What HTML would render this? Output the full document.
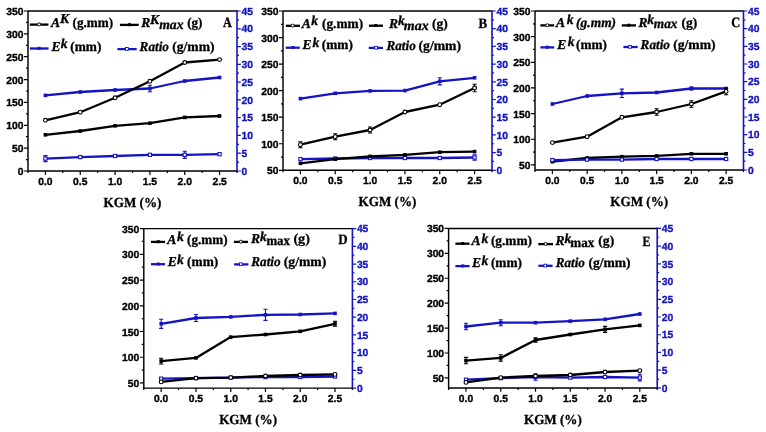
<!DOCTYPE html>
<html><head><meta charset="utf-8"><style>
html,body{margin:0;padding:0;background:#fff;}
svg{display:block;will-change:transform;text-rendering:geometricPrecision;}
.tl{font:bold 10.3px "Liberation Sans",sans-serif;text-anchor:end;fill:#000;stroke:#000;stroke-width:0.35px;}
.tr{font:bold 10.3px "Liberation Sans",sans-serif;text-anchor:start;fill:#1414c4;stroke:#1414c4;stroke-width:0.35px;}
.tb{font:bold 10.3px "Liberation Sans",sans-serif;text-anchor:middle;fill:#000;stroke:#000;stroke-width:0.35px;}
.xl{font:bold 13.8px "Liberation Serif",serif;text-anchor:middle;fill:#000;stroke:#000;stroke-width:0.3px;}
.pl{font:bold 12.5px "Liberation Serif",serif;text-anchor:end;fill:#000;}
.lg{font:bold 12px "Liberation Serif",serif;fill:#000;stroke:#000;stroke-width:0.3px;}
</style></head><body>
<svg width="766" height="432" viewBox="0 0 766 432">
<rect width="766" height="432" fill="#fff"/>
<polyline points="45.42,95.4 80.25,92 115.08,90 149.92,88.5 184.75,81 219.58,77.5" fill="none" stroke="#1414c4" stroke-width="2.3" stroke-linejoin="round"/>
<path d="M149.92 85.2V91.8M147.82 85.2h4.2M147.82 91.8h4.2" stroke="#1414c4" stroke-width="1.1" fill="none"/>
<rect x="43.62" y="93.6" width="3.6" height="3.6" fill="#1414c4"/>
<rect x="78.45" y="90.2" width="3.6" height="3.6" fill="#1414c4"/>
<rect x="113.28" y="88.2" width="3.6" height="3.6" fill="#1414c4"/>
<rect x="148.12" y="86.7" width="3.6" height="3.6" fill="#1414c4"/>
<rect x="182.95" y="79.2" width="3.6" height="3.6" fill="#1414c4"/>
<rect x="217.78" y="75.7" width="3.6" height="3.6" fill="#1414c4"/>
<polyline points="45.42,120.3 80.25,112.2 115.08,97.8 149.92,81.3 184.75,62.5 219.58,59.6" fill="none" stroke="#000" stroke-width="2.3" stroke-linejoin="round"/>
<circle cx="45.42" cy="120.3" r="1.9" fill="#fff" stroke="#000" stroke-width="1.1"/>
<circle cx="80.25" cy="112.2" r="1.9" fill="#fff" stroke="#000" stroke-width="1.1"/>
<circle cx="115.08" cy="97.8" r="1.9" fill="#fff" stroke="#000" stroke-width="1.1"/>
<circle cx="149.92" cy="81.3" r="1.9" fill="#fff" stroke="#000" stroke-width="1.1"/>
<circle cx="184.75" cy="62.5" r="1.9" fill="#fff" stroke="#000" stroke-width="1.1"/>
<circle cx="219.58" cy="59.6" r="1.9" fill="#fff" stroke="#000" stroke-width="1.1"/>
<polyline points="45.42,134.8 80.25,131 115.08,125.8 149.92,123.2 184.75,117.4 219.58,116" fill="none" stroke="#000" stroke-width="2.3" stroke-linejoin="round"/>
<rect x="43.62" y="133" width="3.6" height="3.6" fill="#000"/>
<rect x="78.45" y="129.2" width="3.6" height="3.6" fill="#000"/>
<rect x="113.28" y="124" width="3.6" height="3.6" fill="#000"/>
<rect x="148.12" y="121.4" width="3.6" height="3.6" fill="#000"/>
<rect x="182.95" y="115.6" width="3.6" height="3.6" fill="#000"/>
<rect x="217.78" y="114.2" width="3.6" height="3.6" fill="#000"/>
<polyline points="45.42,158.6 80.25,157.1 115.08,156 149.92,154.8 184.75,154.8 219.58,154.2" fill="none" stroke="#1414c4" stroke-width="2.3" stroke-linejoin="round"/>
<path d="M45.42 155.6V161.6M43.32 155.6h4.2M43.32 161.6h4.2" stroke="#1414c4" stroke-width="1.1" fill="none"/>
<path d="M184.75 151.2V158.4M182.65 151.2h4.2M182.65 158.4h4.2" stroke="#1414c4" stroke-width="1.1" fill="none"/>
<rect x="43.82" y="157" width="3.2" height="3.2" fill="#fff" stroke="#1414c4" stroke-width="1.1"/>
<rect x="78.65" y="155.5" width="3.2" height="3.2" fill="#fff" stroke="#1414c4" stroke-width="1.1"/>
<rect x="113.48" y="154.4" width="3.2" height="3.2" fill="#fff" stroke="#1414c4" stroke-width="1.1"/>
<rect x="148.32" y="153.2" width="3.2" height="3.2" fill="#fff" stroke="#1414c4" stroke-width="1.1"/>
<rect x="183.15" y="153.2" width="3.2" height="3.2" fill="#fff" stroke="#1414c4" stroke-width="1.1"/>
<rect x="217.98" y="152.6" width="3.2" height="3.2" fill="#fff" stroke="#1414c4" stroke-width="1.1"/>
<path d="M28 11H237M28 11V171H237" stroke="#000" stroke-width="1.45" fill="none"/>
<path d="M237 10.2V171.8" stroke="#1414c4" stroke-width="1.6" fill="none"/>
<text x="23.5" y="175" class="tl">0</text>
<text x="23.5" y="152.14" class="tl">50</text>
<text x="23.5" y="129.29" class="tl">100</text>
<text x="23.5" y="106.43" class="tl">150</text>
<text x="23.5" y="83.57" class="tl">200</text>
<text x="23.5" y="60.71" class="tl">250</text>
<text x="23.5" y="37.86" class="tl">300</text>
<text x="23.5" y="15" class="tl">350</text>
<path d="M28 171h-4M28 159.57h-2M28 148.14h-4M28 136.71h-2M28 125.29h-4M28 113.86h-2M28 102.43h-4M28 91h-2M28 79.57h-4M28 68.14h-2M28 56.71h-4M28 45.29h-2M28 33.86h-4M28 22.43h-2M28 11h-4" stroke="#000" stroke-width="1.2"/>
<text x="241.5" y="174.7" class="tr">0</text>
<text x="241.5" y="156.92" class="tr">5</text>
<text x="241.5" y="139.14" class="tr">10</text>
<text x="241.5" y="121.37" class="tr">15</text>
<text x="241.5" y="103.59" class="tr">20</text>
<text x="241.5" y="85.81" class="tr">25</text>
<text x="241.5" y="68.03" class="tr">30</text>
<text x="241.5" y="50.26" class="tr">35</text>
<text x="241.5" y="32.48" class="tr">40</text>
<text x="241.5" y="14.7" class="tr">45</text>
<path d="M237 171h3.8M237 162.11h2M237 153.22h3.8M237 144.33h2M237 135.44h3.8M237 126.56h2M237 117.67h3.8M237 108.78h2M237 99.89h3.8M237 91h2M237 82.11h3.8M237 73.22h2M237 64.33h3.8M237 55.44h2M237 46.56h3.8M237 37.67h2M237 28.78h3.8M237 19.89h2M237 11h3.8" stroke="#1414c4" stroke-width="1.2"/>
<text x="45.42" y="185.1" class="tb">0.0</text>
<text x="80.25" y="185.1" class="tb">0.5</text>
<text x="115.08" y="185.1" class="tb">1.0</text>
<text x="149.92" y="185.1" class="tb">1.5</text>
<text x="184.75" y="185.1" class="tb">2.0</text>
<text x="219.58" y="185.1" class="tb">2.5</text>
<path d="M28 171v2M45.42 171v3.9M62.83 171v2M80.25 171v3.9M97.67 171v2M115.08 171v3.9M132.5 171v2M149.92 171v3.9M167.33 171v2M184.75 171v3.9M202.17 171v2M219.58 171v3.9M237 171v2" stroke="#000" stroke-width="1.2"/>
<text x="132.5" y="206.8" class="xl" textLength="57.8" lengthAdjust="spacingAndGlyphs">KGM (%)</text>
<path d="M29.9 24.6H48.4" stroke="#000" stroke-width="2.3"/>
<circle cx="39.2" cy="24.4" r="1.5" fill="#fff" stroke="#000" stroke-width="0.9"/>
<text x="50.9" y="26.9" class="lg" style="font-style:italic;font-size:13.6px">A</text>
<text x="60" y="23.3" class="lg" style="font-style:italic;font-size:13.6px">K</text>
<text x="72.6" y="26.9" class="lg" style="font-size:13.6px" textLength="40.6" lengthAdjust="spacingAndGlyphs">(g.mm)</text>
<path d="M119.9 24.9H138.7" stroke="#000" stroke-width="2.3"/>
<rect x="128" y="23.2" width="3" height="3" fill="#000"/>
<text x="141.3" y="26.9" class="lg" style="font-style:italic;font-size:13.6px">R</text>
<text x="150.1" y="23.9" class="lg" style="font-style:italic;font-size:13.6px">K</text>
<text x="159.2" y="29.3" class="lg" style="font-style:italic;font-size:13.6px" textLength="24.3" lengthAdjust="spacingAndGlyphs">max</text>
<text x="187.2" y="26.9" class="lg" style="font-size:13.6px" textLength="15.3" lengthAdjust="spacingAndGlyphs">(g)</text>
<path d="M29.9 48.5H48.6" stroke="#1414c4" stroke-width="2.3"/>
<rect x="37.7" y="46.8" width="3" height="3" fill="#1414c4"/>
<text x="51.5" y="51.2" class="lg" style="font-style:italic;font-size:13.6px">E</text>
<text x="60.7" y="48.2" class="lg" style="font-style:italic;font-size:13.6px">k</text>
<text x="70.3" y="51.2" class="lg" style="font-size:13.6px" textLength="31.1" lengthAdjust="spacingAndGlyphs">(mm)</text>
<path d="M117.4 49.1H136.7" stroke="#1414c4" stroke-width="2.3"/>
<rect x="125.5" y="47.5" width="2.8" height="2.8" fill="#fff" stroke="#1414c4" stroke-width="0.9"/>
<text x="139.6" y="51" class="lg" style="font-style:italic;font-size:13.6px" textLength="29.3" lengthAdjust="spacingAndGlyphs">Ratio</text>
<text x="172.2" y="51" class="lg" style="font-size:13.6px" textLength="42.4" lengthAdjust="spacingAndGlyphs">(g/mm)</text>
<text x="222.9" y="27.3" class="lg" style="font-size:14.3px" textLength="8.8" lengthAdjust="spacingAndGlyphs">A</text>
<polyline points="300.42,98.6 335.25,93.3 370.08,90.9 404.92,90.6 439.75,81.3 474.58,77.8" fill="none" stroke="#1414c4" stroke-width="2.3" stroke-linejoin="round"/>
<path d="M439.75 77.7V84.9M437.65 77.7h4.2M437.65 84.9h4.2" stroke="#1414c4" stroke-width="1.1" fill="none"/>
<rect x="298.62" y="96.8" width="3.6" height="3.6" fill="#1414c4"/>
<rect x="333.45" y="91.5" width="3.6" height="3.6" fill="#1414c4"/>
<rect x="368.28" y="89.1" width="3.6" height="3.6" fill="#1414c4"/>
<rect x="403.12" y="88.8" width="3.6" height="3.6" fill="#1414c4"/>
<rect x="437.95" y="79.5" width="3.6" height="3.6" fill="#1414c4"/>
<rect x="472.78" y="76" width="3.6" height="3.6" fill="#1414c4"/>
<polyline points="300.42,144.7 335.25,136.7 370.08,130 404.92,112 439.75,104.7 474.58,88" fill="none" stroke="#000" stroke-width="2.3" stroke-linejoin="round"/>
<path d="M300.42 141.7V147.7M298.32 141.7h4.2M298.32 147.7h4.2" stroke="#000" stroke-width="1.1" fill="none"/>
<path d="M335.25 133.7V139.7M333.15 133.7h4.2M333.15 139.7h4.2" stroke="#000" stroke-width="1.1" fill="none"/>
<path d="M370.08 127V133M367.98 127h4.2M367.98 133h4.2" stroke="#000" stroke-width="1.1" fill="none"/>
<path d="M474.58 84.3V91.7M472.48 84.3h4.2M472.48 91.7h4.2" stroke="#000" stroke-width="1.1" fill="none"/>
<circle cx="300.42" cy="144.7" r="1.9" fill="#fff" stroke="#000" stroke-width="1.1"/>
<circle cx="335.25" cy="136.7" r="1.9" fill="#fff" stroke="#000" stroke-width="1.1"/>
<circle cx="370.08" cy="130" r="1.9" fill="#fff" stroke="#000" stroke-width="1.1"/>
<circle cx="404.92" cy="112" r="1.9" fill="#fff" stroke="#000" stroke-width="1.1"/>
<circle cx="439.75" cy="104.7" r="1.9" fill="#fff" stroke="#000" stroke-width="1.1"/>
<circle cx="474.58" cy="88" r="1.9" fill="#fff" stroke="#000" stroke-width="1.1"/>
<polyline points="300.42,159.1 335.25,158.5 370.08,158 404.92,158 439.75,158 474.58,157.5" fill="none" stroke="#1414c4" stroke-width="2.3" stroke-linejoin="round"/>
<path d="M474.58 154.8V160.2M472.48 154.8h4.2M472.48 160.2h4.2" stroke="#1414c4" stroke-width="1.1" fill="none"/>
<rect x="298.82" y="157.5" width="3.2" height="3.2" fill="#fff" stroke="#1414c4" stroke-width="1.1"/>
<rect x="333.65" y="156.9" width="3.2" height="3.2" fill="#fff" stroke="#1414c4" stroke-width="1.1"/>
<rect x="368.48" y="156.4" width="3.2" height="3.2" fill="#fff" stroke="#1414c4" stroke-width="1.1"/>
<rect x="403.32" y="156.4" width="3.2" height="3.2" fill="#fff" stroke="#1414c4" stroke-width="1.1"/>
<rect x="438.15" y="156.4" width="3.2" height="3.2" fill="#fff" stroke="#1414c4" stroke-width="1.1"/>
<rect x="472.98" y="155.9" width="3.2" height="3.2" fill="#fff" stroke="#1414c4" stroke-width="1.1"/>
<polyline points="300.42,163.3 335.25,159.1 370.08,156.4 404.92,154.8 439.75,152.2 474.58,151.6" fill="none" stroke="#000" stroke-width="2.3" stroke-linejoin="round"/>
<rect x="298.62" y="161.5" width="3.6" height="3.6" fill="#000"/>
<rect x="333.45" y="157.3" width="3.6" height="3.6" fill="#000"/>
<rect x="368.28" y="154.6" width="3.6" height="3.6" fill="#000"/>
<rect x="403.12" y="153" width="3.6" height="3.6" fill="#000"/>
<rect x="437.95" y="150.4" width="3.6" height="3.6" fill="#000"/>
<rect x="472.78" y="149.8" width="3.6" height="3.6" fill="#000"/>
<path d="M283 11H492M283 11V170.3H492" stroke="#000" stroke-width="1.45" fill="none"/>
<path d="M492 10.2V171.1" stroke="#1414c4" stroke-width="1.6" fill="none"/>
<text x="278.5" y="174.3" class="tl">50</text>
<text x="278.5" y="147.75" class="tl">100</text>
<text x="278.5" y="121.2" class="tl">150</text>
<text x="278.5" y="94.65" class="tl">200</text>
<text x="278.5" y="68.1" class="tl">250</text>
<text x="278.5" y="41.55" class="tl">300</text>
<text x="278.5" y="15" class="tl">350</text>
<path d="M283 170.3h-4M283 157.03h-2M283 143.75h-4M283 130.48h-2M283 117.2h-4M283 103.92h-2M283 90.65h-4M283 77.38h-2M283 64.1h-4M283 50.83h-2M283 37.55h-4M283 24.28h-2M283 11h-4" stroke="#000" stroke-width="1.2"/>
<text x="496.5" y="174" class="tr">0</text>
<text x="496.5" y="156.3" class="tr">5</text>
<text x="496.5" y="138.6" class="tr">10</text>
<text x="496.5" y="120.9" class="tr">15</text>
<text x="496.5" y="103.2" class="tr">20</text>
<text x="496.5" y="85.5" class="tr">25</text>
<text x="496.5" y="67.8" class="tr">30</text>
<text x="496.5" y="50.1" class="tr">35</text>
<text x="496.5" y="32.4" class="tr">40</text>
<text x="496.5" y="14.7" class="tr">45</text>
<path d="M492 170.3h3.8M492 161.45h2M492 152.6h3.8M492 143.75h2M492 134.9h3.8M492 126.05h2M492 117.2h3.8M492 108.35h2M492 99.5h3.8M492 90.65h2M492 81.8h3.8M492 72.95h2M492 64.1h3.8M492 55.25h2M492 46.4h3.8M492 37.55h2M492 28.7h3.8M492 19.85h2M492 11h3.8" stroke="#1414c4" stroke-width="1.2"/>
<text x="300.42" y="184.4" class="tb">0.0</text>
<text x="335.25" y="184.4" class="tb">0.5</text>
<text x="370.08" y="184.4" class="tb">1.0</text>
<text x="404.92" y="184.4" class="tb">1.5</text>
<text x="439.75" y="184.4" class="tb">2.0</text>
<text x="474.58" y="184.4" class="tb">2.5</text>
<path d="M283 170.3v2M300.42 170.3v3.9M317.83 170.3v2M335.25 170.3v3.9M352.67 170.3v2M370.08 170.3v3.9M387.5 170.3v2M404.92 170.3v3.9M422.33 170.3v2M439.75 170.3v3.9M457.17 170.3v2M474.58 170.3v3.9M492 170.3v2" stroke="#000" stroke-width="1.2"/>
<text x="387.5" y="206.1" class="xl" textLength="57.8" lengthAdjust="spacingAndGlyphs">KGM (%)</text>
<path d="M285.9 25.8H299.9" stroke="#000" stroke-width="2.3"/>
<circle cx="292.7" cy="25.6" r="1.5" fill="#fff" stroke="#000" stroke-width="0.9"/>
<text x="301.7" y="27.6" class="lg" style="font-style:italic;font-size:13.6px">A</text>
<text x="311.3" y="25" class="lg" style="font-style:italic;font-size:13.6px">k</text>
<text x="322" y="27.6" class="lg" style="font-size:13.6px" textLength="41.1" lengthAdjust="spacingAndGlyphs">(g.mm)</text>
<path d="M368.9 25.7H383" stroke="#000" stroke-width="2.3"/>
<rect x="374.3" y="24" width="3" height="3" fill="#000"/>
<text x="389.1" y="27.5" class="lg" style="font-style:italic;font-size:13.6px">R</text>
<text x="397.9" y="24.7" class="lg" style="font-style:italic;font-size:13.6px">k</text>
<text x="403.8" y="29.5" class="lg" style="font-style:italic;font-size:13.6px" textLength="24.9" lengthAdjust="spacingAndGlyphs">max</text>
<text x="432" y="27.5" class="lg" style="font-size:13.6px" textLength="15.8" lengthAdjust="spacingAndGlyphs">(g)</text>
<path d="M285.7 47.7H299.8" stroke="#1414c4" stroke-width="2.3"/>
<rect x="291.5" y="46" width="3" height="3" fill="#1414c4"/>
<text x="302.4" y="49.4" class="lg" style="font-style:italic;font-size:13.6px">E</text>
<text x="312.4" y="47" class="lg" style="font-style:italic;font-size:13.6px">k</text>
<text x="321.8" y="49.4" class="lg" style="font-size:13.6px" textLength="31.1" lengthAdjust="spacingAndGlyphs">(mm)</text>
<path d="M368.7 47.9H383" stroke="#1414c4" stroke-width="2.3"/>
<rect x="374.7" y="46.3" width="2.8" height="2.8" fill="#fff" stroke="#1414c4" stroke-width="0.9"/>
<text x="386.5" y="49.6" class="lg" style="font-style:italic;font-size:13.6px" textLength="29.2" lengthAdjust="spacingAndGlyphs">Ratio</text>
<text x="418.5" y="49.6" class="lg" style="font-size:13.6px" textLength="42.6" lengthAdjust="spacingAndGlyphs">(g/mm)</text>
<text x="478.5" y="27.6" class="lg" style="font-size:14.3px" textLength="8.7" lengthAdjust="spacingAndGlyphs">B</text>
<polyline points="552.38,104 587.12,96 621.88,93.3 656.62,92.5 691.38,88.5 726.12,88.5" fill="none" stroke="#1414c4" stroke-width="2.3" stroke-linejoin="round"/>
<path d="M621.88 89.1V97.5M619.77 89.1h4.2M619.77 97.5h4.2" stroke="#1414c4" stroke-width="1.1" fill="none"/>
<path d="M691.38 87V90M689.27 87h4.2M689.27 90h4.2" stroke="#1414c4" stroke-width="1.1" fill="none"/>
<rect x="550.58" y="102.2" width="3.6" height="3.6" fill="#1414c4"/>
<rect x="585.33" y="94.2" width="3.6" height="3.6" fill="#1414c4"/>
<rect x="620.08" y="91.5" width="3.6" height="3.6" fill="#1414c4"/>
<rect x="654.83" y="90.7" width="3.6" height="3.6" fill="#1414c4"/>
<rect x="689.58" y="86.7" width="3.6" height="3.6" fill="#1414c4"/>
<rect x="724.33" y="86.7" width="3.6" height="3.6" fill="#1414c4"/>
<polyline points="552.38,142.6 587.12,136.7 621.88,117.3 656.62,112 691.38,104 726.12,91.4" fill="none" stroke="#000" stroke-width="2.3" stroke-linejoin="round"/>
<path d="M656.62 108.7V115.3M654.52 108.7h4.2M654.52 115.3h4.2" stroke="#000" stroke-width="1.1" fill="none"/>
<path d="M691.38 100.7V107.3M689.27 100.7h4.2M689.27 107.3h4.2" stroke="#000" stroke-width="1.1" fill="none"/>
<path d="M726.12 88.1V94.7M724.02 88.1h4.2M724.02 94.7h4.2" stroke="#000" stroke-width="1.1" fill="none"/>
<circle cx="552.38" cy="142.6" r="1.9" fill="#fff" stroke="#000" stroke-width="1.1"/>
<circle cx="587.12" cy="136.7" r="1.9" fill="#fff" stroke="#000" stroke-width="1.1"/>
<circle cx="621.88" cy="117.3" r="1.9" fill="#fff" stroke="#000" stroke-width="1.1"/>
<circle cx="656.62" cy="112" r="1.9" fill="#fff" stroke="#000" stroke-width="1.1"/>
<circle cx="691.38" cy="104" r="1.9" fill="#fff" stroke="#000" stroke-width="1.1"/>
<circle cx="726.12" cy="91.4" r="1.9" fill="#fff" stroke="#000" stroke-width="1.1"/>
<polyline points="552.38,161.7 587.12,158 621.88,156.7 656.62,155.9 691.38,153.8 726.12,153.8" fill="none" stroke="#000" stroke-width="2.3" stroke-linejoin="round"/>
<rect x="550.58" y="159.9" width="3.6" height="3.6" fill="#000"/>
<rect x="585.33" y="156.2" width="3.6" height="3.6" fill="#000"/>
<rect x="620.08" y="154.9" width="3.6" height="3.6" fill="#000"/>
<rect x="654.83" y="154.1" width="3.6" height="3.6" fill="#000"/>
<rect x="689.58" y="152" width="3.6" height="3.6" fill="#000"/>
<rect x="724.33" y="152" width="3.6" height="3.6" fill="#000"/>
<polyline points="552.38,160.1 587.12,159.6 621.88,159.6 656.62,159 691.38,159 726.12,159" fill="none" stroke="#1414c4" stroke-width="2.3" stroke-linejoin="round"/>
<rect x="550.77" y="158.5" width="3.2" height="3.2" fill="#fff" stroke="#1414c4" stroke-width="1.1"/>
<rect x="585.52" y="158" width="3.2" height="3.2" fill="#fff" stroke="#1414c4" stroke-width="1.1"/>
<rect x="620.27" y="158" width="3.2" height="3.2" fill="#fff" stroke="#1414c4" stroke-width="1.1"/>
<rect x="655.02" y="157.4" width="3.2" height="3.2" fill="#fff" stroke="#1414c4" stroke-width="1.1"/>
<rect x="689.77" y="157.4" width="3.2" height="3.2" fill="#fff" stroke="#1414c4" stroke-width="1.1"/>
<rect x="724.52" y="157.4" width="3.2" height="3.2" fill="#fff" stroke="#1414c4" stroke-width="1.1"/>
<path d="M535 11H743.5M535 11V170H743.5" stroke="#000" stroke-width="1.45" fill="none"/>
<path d="M743.5 10.2V170.8" stroke="#1414c4" stroke-width="1.6" fill="none"/>
<text x="530.5" y="168.87" class="tl">50</text>
<text x="530.5" y="143.23" class="tl">100</text>
<text x="530.5" y="117.58" class="tl">150</text>
<text x="530.5" y="91.94" class="tl">200</text>
<text x="530.5" y="66.29" class="tl">250</text>
<text x="530.5" y="40.65" class="tl">300</text>
<text x="530.5" y="15" class="tl">350</text>
<path d="M535 164.87h-4M535 152.05h-2M535 139.23h-4M535 126.4h-2M535 113.58h-4M535 100.76h-2M535 87.94h-4M535 75.11h-2M535 62.29h-4M535 49.47h-2M535 36.65h-4M535 23.82h-2M535 11h-4" stroke="#000" stroke-width="1.2"/>
<text x="748" y="173.7" class="tr">0</text>
<text x="748" y="156.03" class="tr">5</text>
<text x="748" y="138.37" class="tr">10</text>
<text x="748" y="120.7" class="tr">15</text>
<text x="748" y="103.03" class="tr">20</text>
<text x="748" y="85.37" class="tr">25</text>
<text x="748" y="67.7" class="tr">30</text>
<text x="748" y="50.03" class="tr">35</text>
<text x="748" y="32.37" class="tr">40</text>
<text x="748" y="14.7" class="tr">45</text>
<path d="M743.5 170h3.8M743.5 161.17h2M743.5 152.33h3.8M743.5 143.5h2M743.5 134.67h3.8M743.5 125.83h2M743.5 117h3.8M743.5 108.17h2M743.5 99.33h3.8M743.5 90.5h2M743.5 81.67h3.8M743.5 72.83h2M743.5 64h3.8M743.5 55.17h2M743.5 46.33h3.8M743.5 37.5h2M743.5 28.67h3.8M743.5 19.83h2M743.5 11h3.8" stroke="#1414c4" stroke-width="1.2"/>
<text x="552.38" y="184.1" class="tb">0.0</text>
<text x="587.12" y="184.1" class="tb">0.5</text>
<text x="621.88" y="184.1" class="tb">1.0</text>
<text x="656.62" y="184.1" class="tb">1.5</text>
<text x="691.38" y="184.1" class="tb">2.0</text>
<text x="726.12" y="184.1" class="tb">2.5</text>
<path d="M535 170v2M552.38 170v3.9M569.75 170v2M587.12 170v3.9M604.5 170v2M621.88 170v3.9M639.25 170v2M656.62 170v3.9M674 170v2M691.38 170v3.9M708.75 170v2M726.12 170v3.9M743.5 170v2" stroke="#000" stroke-width="1.2"/>
<text x="639.25" y="205.8" class="xl" textLength="57.8" lengthAdjust="spacingAndGlyphs">KGM (%)</text>
<path d="M540.4 25.4H554.2" stroke="#000" stroke-width="2.3"/>
<circle cx="547.3" cy="25.2" r="1.5" fill="#fff" stroke="#000" stroke-width="0.9"/>
<text x="556.1" y="26.9" class="lg" style="font-style:italic;font-size:13.6px">A</text>
<text x="566.7" y="24.2" class="lg" style="font-style:italic;font-size:13.6px">k</text>
<text x="576.1" y="26.9" class="lg" style="font-style:italic;font-size:13.6px" textLength="40" lengthAdjust="spacingAndGlyphs">(g.mm)</text>
<path d="M621.8 25.4H636" stroke="#000" stroke-width="2.3"/>
<rect x="627.4" y="23.7" width="3" height="3" fill="#000"/>
<text x="638.5" y="26.6" class="lg" style="font-style:italic;font-size:13.6px">R</text>
<text x="647.3" y="24.2" class="lg" style="font-style:italic;font-size:13.6px">k</text>
<text x="653.8" y="28.3" class="lg" style="font-style:italic;font-size:13.6px" textLength="23.7" lengthAdjust="spacingAndGlyphs">max</text>
<text x="681.4" y="26.6" class="lg" style="font-size:13.6px" textLength="15.8" lengthAdjust="spacingAndGlyphs">(g)</text>
<path d="M540.4 47.4H554.2" stroke="#1414c4" stroke-width="2.3"/>
<rect x="545.8" y="45.7" width="3" height="3" fill="#1414c4"/>
<text x="557.3" y="48.6" class="lg" style="font-style:italic;font-size:13.6px">E</text>
<text x="567.7" y="46" class="lg" style="font-style:italic;font-size:13.6px">k</text>
<text x="576.1" y="48.6" class="lg" style="font-size:13.6px" textLength="30.8" lengthAdjust="spacingAndGlyphs">(mm)</text>
<path d="M623.4 47H637.7" stroke="#1414c4" stroke-width="2.3"/>
<rect x="628.7" y="45.4" width="2.8" height="2.8" fill="#fff" stroke="#1414c4" stroke-width="0.9"/>
<text x="640.6" y="48.5" class="lg" style="font-style:italic;font-size:13.6px" textLength="29.3" lengthAdjust="spacingAndGlyphs">Ratio</text>
<text x="673.2" y="48.5" class="lg" style="font-size:13.6px" textLength="42.4" lengthAdjust="spacingAndGlyphs">(g/mm)</text>
<text x="731.2" y="27.4" class="lg" style="font-size:14.3px" textLength="9" lengthAdjust="spacingAndGlyphs">C</text>
<polyline points="161.18,323.8 195.95,318 230.72,316.9 265.48,314.8 300.25,314.5 335.02,313.4" fill="none" stroke="#1414c4" stroke-width="2.3" stroke-linejoin="round"/>
<path d="M161.18 319.2V328.4M159.08 319.2h4.2M159.08 328.4h4.2" stroke="#1414c4" stroke-width="1.1" fill="none"/>
<path d="M195.95 314.5V321.5M193.85 314.5h4.2M193.85 321.5h4.2" stroke="#1414c4" stroke-width="1.1" fill="none"/>
<path d="M265.48 309.2V320.4M263.38 309.2h4.2M263.38 320.4h4.2" stroke="#1414c4" stroke-width="1.1" fill="none"/>
<rect x="159.38" y="322" width="3.6" height="3.6" fill="#1414c4"/>
<rect x="194.15" y="316.2" width="3.6" height="3.6" fill="#1414c4"/>
<rect x="228.92" y="315.1" width="3.6" height="3.6" fill="#1414c4"/>
<rect x="263.68" y="313" width="3.6" height="3.6" fill="#1414c4"/>
<rect x="298.45" y="312.7" width="3.6" height="3.6" fill="#1414c4"/>
<rect x="333.22" y="311.6" width="3.6" height="3.6" fill="#1414c4"/>
<polyline points="161.18,361.1 195.95,357.9 230.72,337.1 265.48,334.5 300.25,331.3 335.02,323.8" fill="none" stroke="#000" stroke-width="2.3" stroke-linejoin="round"/>
<path d="M161.18 358.2V364M159.08 358.2h4.2M159.08 364h4.2" stroke="#000" stroke-width="1.1" fill="none"/>
<path d="M335.02 321.3V326.3M332.92 321.3h4.2M332.92 326.3h4.2" stroke="#000" stroke-width="1.1" fill="none"/>
<rect x="159.38" y="359.3" width="3.6" height="3.6" fill="#000"/>
<rect x="194.15" y="356.1" width="3.6" height="3.6" fill="#000"/>
<rect x="228.92" y="335.3" width="3.6" height="3.6" fill="#000"/>
<rect x="263.68" y="332.7" width="3.6" height="3.6" fill="#000"/>
<rect x="298.45" y="329.5" width="3.6" height="3.6" fill="#000"/>
<rect x="333.22" y="322" width="3.6" height="3.6" fill="#000"/>
<polyline points="161.18,378.7 195.95,378.1 230.72,377.6 265.48,377 300.25,377 335.02,376.5" fill="none" stroke="#1414c4" stroke-width="2.3" stroke-linejoin="round"/>
<rect x="159.58" y="377.1" width="3.2" height="3.2" fill="#fff" stroke="#1414c4" stroke-width="1.1"/>
<rect x="194.35" y="376.5" width="3.2" height="3.2" fill="#fff" stroke="#1414c4" stroke-width="1.1"/>
<rect x="229.12" y="376" width="3.2" height="3.2" fill="#fff" stroke="#1414c4" stroke-width="1.1"/>
<rect x="263.88" y="375.4" width="3.2" height="3.2" fill="#fff" stroke="#1414c4" stroke-width="1.1"/>
<rect x="298.65" y="375.4" width="3.2" height="3.2" fill="#fff" stroke="#1414c4" stroke-width="1.1"/>
<rect x="333.42" y="374.9" width="3.2" height="3.2" fill="#fff" stroke="#1414c4" stroke-width="1.1"/>
<polyline points="161.18,381.9 195.95,378.1 230.72,377.6 265.48,376 300.25,375 335.02,374.4" fill="none" stroke="#000" stroke-width="2.3" stroke-linejoin="round"/>
<circle cx="161.18" cy="381.9" r="1.9" fill="#fff" stroke="#000" stroke-width="1.1"/>
<circle cx="195.95" cy="378.1" r="1.9" fill="#fff" stroke="#000" stroke-width="1.1"/>
<circle cx="230.72" cy="377.6" r="1.9" fill="#fff" stroke="#000" stroke-width="1.1"/>
<circle cx="265.48" cy="376" r="1.9" fill="#fff" stroke="#000" stroke-width="1.1"/>
<circle cx="300.25" cy="375" r="1.9" fill="#fff" stroke="#000" stroke-width="1.1"/>
<circle cx="335.02" cy="374.4" r="1.9" fill="#fff" stroke="#000" stroke-width="1.1"/>
<path d="M143.8 228.6H352.4M143.8 228.6V388.1H352.4" stroke="#000" stroke-width="1.45" fill="none"/>
<path d="M352.4 227.8V388.9" stroke="#1414c4" stroke-width="1.6" fill="none"/>
<text x="139.3" y="386.95" class="tl">50</text>
<text x="139.3" y="361.23" class="tl">100</text>
<text x="139.3" y="335.5" class="tl">150</text>
<text x="139.3" y="309.78" class="tl">200</text>
<text x="139.3" y="284.05" class="tl">250</text>
<text x="139.3" y="258.33" class="tl">300</text>
<text x="139.3" y="232.6" class="tl">350</text>
<path d="M143.8 382.95h-4M143.8 370.09h-2M143.8 357.23h-4M143.8 344.37h-2M143.8 331.5h-4M143.8 318.64h-2M143.8 305.78h-4M143.8 292.91h-2M143.8 280.05h-4M143.8 267.19h-2M143.8 254.33h-4M143.8 241.46h-2M143.8 228.6h-4" stroke="#000" stroke-width="1.2"/>
<text x="356.9" y="391.8" class="tr">0</text>
<text x="356.9" y="374.08" class="tr">5</text>
<text x="356.9" y="356.36" class="tr">10</text>
<text x="356.9" y="338.63" class="tr">15</text>
<text x="356.9" y="320.91" class="tr">20</text>
<text x="356.9" y="303.19" class="tr">25</text>
<text x="356.9" y="285.47" class="tr">30</text>
<text x="356.9" y="267.74" class="tr">35</text>
<text x="356.9" y="250.02" class="tr">40</text>
<text x="356.9" y="232.3" class="tr">45</text>
<path d="M352.4 388.1h3.8M352.4 379.24h2M352.4 370.38h3.8M352.4 361.52h2M352.4 352.66h3.8M352.4 343.79h2M352.4 334.93h3.8M352.4 326.07h2M352.4 317.21h3.8M352.4 308.35h2M352.4 299.49h3.8M352.4 290.63h2M352.4 281.77h3.8M352.4 272.91h2M352.4 264.04h3.8M352.4 255.18h2M352.4 246.32h3.8M352.4 237.46h2M352.4 228.6h3.8" stroke="#1414c4" stroke-width="1.2"/>
<text x="161.18" y="402.2" class="tb">0.0</text>
<text x="195.95" y="402.2" class="tb">0.5</text>
<text x="230.72" y="402.2" class="tb">1.0</text>
<text x="265.48" y="402.2" class="tb">1.5</text>
<text x="300.25" y="402.2" class="tb">2.0</text>
<text x="335.02" y="402.2" class="tb">2.5</text>
<path d="M143.8 388.1v2M161.18 388.1v3.9M178.57 388.1v2M195.95 388.1v3.9M213.33 388.1v2M230.72 388.1v3.9M248.1 388.1v2M265.48 388.1v3.9M282.87 388.1v2M300.25 388.1v3.9M317.63 388.1v2M335.02 388.1v3.9M352.4 388.1v2" stroke="#000" stroke-width="1.2"/>
<text x="248.1" y="423.9" class="xl" textLength="57.8" lengthAdjust="spacingAndGlyphs">KGM (%)</text>
<path d="M151 241.9H165.1" stroke="#000" stroke-width="2.3"/>
<rect x="156.8" y="240.2" width="3" height="3" fill="#000"/>
<text x="167.3" y="244.1" class="lg" style="font-style:italic;font-size:13.6px">A</text>
<text x="177.1" y="241.3" class="lg" style="font-style:italic;font-size:13.6px">k</text>
<text x="187.1" y="243.9" class="lg" style="font-size:13.6px" textLength="40.5" lengthAdjust="spacingAndGlyphs">(g.mm)</text>
<path d="M233.9 241.9H248" stroke="#000" stroke-width="2.3"/>
<circle cx="240.8" cy="241.7" r="1.5" fill="#fff" stroke="#000" stroke-width="0.9"/>
<text x="251.1" y="243.4" class="lg" style="font-style:italic;font-size:13.6px">R</text>
<text x="260" y="241" class="lg" style="font-style:italic;font-size:13.6px">k</text>
<text x="266.4" y="245.4" class="lg" style="font-size:13.6px" textLength="23.5" lengthAdjust="spacingAndGlyphs">max</text>
<text x="293.4" y="243.4" class="lg" style="font-size:13.6px" textLength="16.5" lengthAdjust="spacingAndGlyphs">(g)</text>
<path d="M151 264.2H165.1" stroke="#1414c4" stroke-width="2.3"/>
<rect x="156.8" y="262.5" width="3" height="3" fill="#1414c4"/>
<text x="167.7" y="266" class="lg" style="font-style:italic;font-size:13.6px">E</text>
<text x="177.1" y="263.5" class="lg" style="font-style:italic;font-size:13.6px">k</text>
<text x="187.1" y="266" class="lg" style="font-size:13.6px" textLength="31.1" lengthAdjust="spacingAndGlyphs">(mm)</text>
<path d="M234.1 264.4H248.4" stroke="#1414c4" stroke-width="2.3"/>
<rect x="239.4" y="262.8" width="2.8" height="2.8" fill="#fff" stroke="#1414c4" stroke-width="0.9"/>
<text x="251.3" y="266.3" class="lg" style="font-style:italic;font-size:13.6px" textLength="29.3" lengthAdjust="spacingAndGlyphs">Ratio</text>
<text x="283.8" y="266.3" class="lg" style="font-size:13.6px" textLength="42.5" lengthAdjust="spacingAndGlyphs">(g/mm)</text>
<text x="338.2" y="244.3" class="lg" style="font-size:14.3px" textLength="9.4" lengthAdjust="spacingAndGlyphs">D</text>
<polyline points="465.98,326.5 500.75,322.7 535.52,322.7 570.28,321.1 605.05,319.3 639.82,314" fill="none" stroke="#1414c4" stroke-width="2.3" stroke-linejoin="round"/>
<path d="M465.98 323.2V329.8M463.88 323.2h4.2M463.88 329.8h4.2" stroke="#1414c4" stroke-width="1.1" fill="none"/>
<path d="M500.75 319.7V325.7M498.65 319.7h4.2M498.65 325.7h4.2" stroke="#1414c4" stroke-width="1.1" fill="none"/>
<rect x="464.18" y="324.7" width="3.6" height="3.6" fill="#1414c4"/>
<rect x="498.95" y="320.9" width="3.6" height="3.6" fill="#1414c4"/>
<rect x="533.72" y="320.9" width="3.6" height="3.6" fill="#1414c4"/>
<rect x="568.48" y="319.3" width="3.6" height="3.6" fill="#1414c4"/>
<rect x="603.25" y="317.5" width="3.6" height="3.6" fill="#1414c4"/>
<rect x="638.02" y="312.2" width="3.6" height="3.6" fill="#1414c4"/>
<polyline points="465.98,360.6 500.75,357.9 535.52,340 570.28,334.5 605.05,329.4 639.82,325.4" fill="none" stroke="#000" stroke-width="2.3" stroke-linejoin="round"/>
<path d="M465.98 357.4V363.8M463.88 357.4h4.2M463.88 363.8h4.2" stroke="#000" stroke-width="1.1" fill="none"/>
<path d="M500.75 354.7V361.1M498.65 354.7h4.2M498.65 361.1h4.2" stroke="#000" stroke-width="1.1" fill="none"/>
<path d="M535.52 337.7V342.3M533.42 337.7h4.2M533.42 342.3h4.2" stroke="#000" stroke-width="1.1" fill="none"/>
<path d="M605.05 326.4V332.4M602.95 326.4h4.2M602.95 332.4h4.2" stroke="#000" stroke-width="1.1" fill="none"/>
<rect x="464.18" y="358.8" width="3.6" height="3.6" fill="#000"/>
<rect x="498.95" y="356.1" width="3.6" height="3.6" fill="#000"/>
<rect x="533.72" y="338.2" width="3.6" height="3.6" fill="#000"/>
<rect x="568.48" y="332.7" width="3.6" height="3.6" fill="#000"/>
<rect x="603.25" y="327.6" width="3.6" height="3.6" fill="#000"/>
<rect x="638.02" y="323.6" width="3.6" height="3.6" fill="#000"/>
<polyline points="465.98,379.7 500.75,378.1 535.52,377 570.28,377.6 605.05,377 639.82,377.6" fill="none" stroke="#1414c4" stroke-width="2.3" stroke-linejoin="round"/>
<path d="M535.52 373.7V380.3M533.42 373.7h4.2M533.42 380.3h4.2" stroke="#1414c4" stroke-width="1.1" fill="none"/>
<path d="M639.82 374.3V380.9M637.72 374.3h4.2M637.72 380.9h4.2" stroke="#1414c4" stroke-width="1.1" fill="none"/>
<rect x="464.38" y="378.1" width="3.2" height="3.2" fill="#fff" stroke="#1414c4" stroke-width="1.1"/>
<rect x="499.15" y="376.5" width="3.2" height="3.2" fill="#fff" stroke="#1414c4" stroke-width="1.1"/>
<rect x="533.92" y="375.4" width="3.2" height="3.2" fill="#fff" stroke="#1414c4" stroke-width="1.1"/>
<rect x="568.68" y="376" width="3.2" height="3.2" fill="#fff" stroke="#1414c4" stroke-width="1.1"/>
<rect x="603.45" y="375.4" width="3.2" height="3.2" fill="#fff" stroke="#1414c4" stroke-width="1.1"/>
<rect x="638.22" y="376" width="3.2" height="3.2" fill="#fff" stroke="#1414c4" stroke-width="1.1"/>
<polyline points="465.98,382.4 500.75,377.6 535.52,376 570.28,375 605.05,372 639.82,370.7" fill="none" stroke="#000" stroke-width="2.3" stroke-linejoin="round"/>
<circle cx="465.98" cy="382.4" r="1.9" fill="#fff" stroke="#000" stroke-width="1.1"/>
<circle cx="500.75" cy="377.6" r="1.9" fill="#fff" stroke="#000" stroke-width="1.1"/>
<circle cx="535.52" cy="376" r="1.9" fill="#fff" stroke="#000" stroke-width="1.1"/>
<circle cx="570.28" cy="375" r="1.9" fill="#fff" stroke="#000" stroke-width="1.1"/>
<circle cx="605.05" cy="372" r="1.9" fill="#fff" stroke="#000" stroke-width="1.1"/>
<circle cx="639.82" cy="370.7" r="1.9" fill="#fff" stroke="#000" stroke-width="1.1"/>
<path d="M448.6 228.4H657.2M448.6 228.4V387.9H657.2" stroke="#000" stroke-width="1.45" fill="none"/>
<path d="M657.2 227.6V388.7" stroke="#1414c4" stroke-width="1.6" fill="none"/>
<text x="444.1" y="381.93" class="tl">50</text>
<text x="444.1" y="357.01" class="tl">100</text>
<text x="444.1" y="332.09" class="tl">150</text>
<text x="444.1" y="307.17" class="tl">200</text>
<text x="444.1" y="282.24" class="tl">250</text>
<text x="444.1" y="257.32" class="tl">300</text>
<text x="444.1" y="232.4" class="tl">350</text>
<path d="M448.6 377.93h-4M448.6 365.47h-2M448.6 353.01h-4M448.6 340.55h-2M448.6 328.09h-4M448.6 315.63h-2M448.6 303.17h-4M448.6 290.7h-2M448.6 278.24h-4M448.6 265.78h-2M448.6 253.32h-4M448.6 240.86h-2M448.6 228.4h-4" stroke="#000" stroke-width="1.2"/>
<text x="661.7" y="391.6" class="tr">0</text>
<text x="661.7" y="373.88" class="tr">5</text>
<text x="661.7" y="356.16" class="tr">10</text>
<text x="661.7" y="338.43" class="tr">15</text>
<text x="661.7" y="320.71" class="tr">20</text>
<text x="661.7" y="302.99" class="tr">25</text>
<text x="661.7" y="285.27" class="tr">30</text>
<text x="661.7" y="267.54" class="tr">35</text>
<text x="661.7" y="249.82" class="tr">40</text>
<text x="661.7" y="232.1" class="tr">45</text>
<path d="M657.2 387.9h3.8M657.2 379.04h2M657.2 370.18h3.8M657.2 361.32h2M657.2 352.46h3.8M657.2 343.59h2M657.2 334.73h3.8M657.2 325.87h2M657.2 317.01h3.8M657.2 308.15h2M657.2 299.29h3.8M657.2 290.43h2M657.2 281.57h3.8M657.2 272.71h2M657.2 263.84h3.8M657.2 254.98h2M657.2 246.12h3.8M657.2 237.26h2M657.2 228.4h3.8" stroke="#1414c4" stroke-width="1.2"/>
<text x="465.98" y="402" class="tb">0.0</text>
<text x="500.75" y="402" class="tb">0.5</text>
<text x="535.52" y="402" class="tb">1.0</text>
<text x="570.28" y="402" class="tb">1.5</text>
<text x="605.05" y="402" class="tb">2.0</text>
<text x="639.82" y="402" class="tb">2.5</text>
<path d="M448.6 387.9v2M465.98 387.9v3.9M483.37 387.9v2M500.75 387.9v3.9M518.13 387.9v2M535.52 387.9v3.9M552.9 387.9v2M570.28 387.9v3.9M587.67 387.9v2M605.05 387.9v3.9M622.43 387.9v2M639.82 387.9v3.9M657.2 387.9v2" stroke="#000" stroke-width="1.2"/>
<text x="552.9" y="423.7" class="xl" textLength="57.8" lengthAdjust="spacingAndGlyphs">KGM (%)</text>
<path d="M455.4 243.7H469.5" stroke="#000" stroke-width="2.3"/>
<rect x="461.2" y="242" width="3" height="3" fill="#000"/>
<text x="471.5" y="245.2" class="lg" style="font-style:italic;font-size:13.6px">A</text>
<text x="481.5" y="242.8" class="lg" style="font-style:italic;font-size:13.6px">k</text>
<text x="490.9" y="245.2" class="lg" style="font-size:13.6px" textLength="41.1" lengthAdjust="spacingAndGlyphs">(g.mm)</text>
<path d="M538.3 244.1H553" stroke="#000" stroke-width="2.3"/>
<circle cx="545.6" cy="243.9" r="1.5" fill="#fff" stroke="#000" stroke-width="0.9"/>
<text x="555.6" y="245.2" class="lg" style="font-style:italic;font-size:13.6px">R</text>
<text x="564.4" y="242.8" class="lg" style="font-style:italic;font-size:13.6px">k</text>
<text x="570.2" y="247.3" class="lg" style="font-size:13.6px" textLength="24.1" lengthAdjust="spacingAndGlyphs">max</text>
<text x="598.3" y="245.2" class="lg" style="font-size:13.6px" textLength="16" lengthAdjust="spacingAndGlyphs">(g)</text>
<path d="M455.4 266.1H469.5" stroke="#1414c4" stroke-width="2.3"/>
<rect x="461.2" y="264.4" width="3" height="3" fill="#1414c4"/>
<text x="472.1" y="267.2" class="lg" style="font-style:italic;font-size:13.6px">E</text>
<text x="481.5" y="264.8" class="lg" style="font-style:italic;font-size:13.6px">k</text>
<text x="490.9" y="267.2" class="lg" style="font-size:13.6px" textLength="31.1" lengthAdjust="spacingAndGlyphs">(mm)</text>
<path d="M538.4 265.8H552.6" stroke="#1414c4" stroke-width="2.3"/>
<rect x="543.9" y="264.2" width="2.8" height="2.8" fill="#fff" stroke="#1414c4" stroke-width="0.9"/>
<text x="555.8" y="267.4" class="lg" style="font-style:italic;font-size:13.6px" textLength="29.1" lengthAdjust="spacingAndGlyphs">Ratio</text>
<text x="588.4" y="267.4" class="lg" style="font-size:13.6px" textLength="42.2" lengthAdjust="spacingAndGlyphs">(g/mm)</text>
<text x="642.4" y="246.2" class="lg" style="font-size:14.3px" textLength="8" lengthAdjust="spacingAndGlyphs">E</text>
</svg>
</body></html>
